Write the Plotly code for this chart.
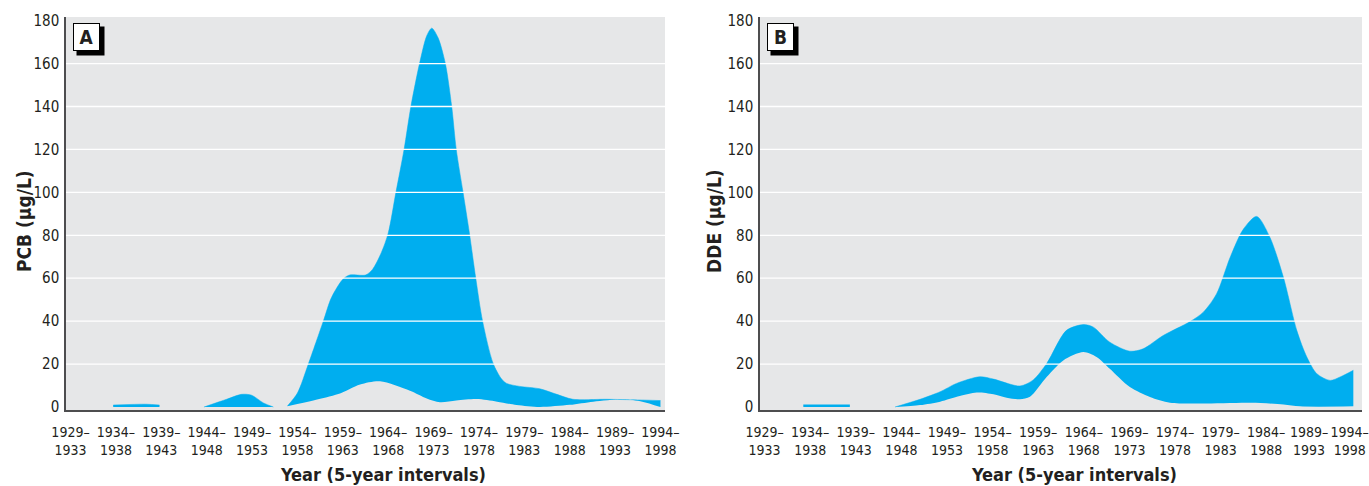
import plotly.graph_objects as go

# ---------------- data ----------------
x_labels = ["1929–<br>1933", "1934–<br>1938", "1939–<br>1943", "1944–<br>1948",
            "1949–<br>1953", "1954–<br>1958", "1959–<br>1963", "1964–<br>1968",
            "1969–<br>1973", "1974–<br>1978", "1979–<br>1983", "1984–<br>1988",
            "1989–<br>1993", "1994–<br>1998"]
x_pos = list(range(len(x_labels)))
y_ticks = [0, 20, 40, 60, 80, 100, 120, 140, 160, 180]

# Panel A: PCB (upper and lower bounds of the band), positions in interval units
pcb_seg1_x = [0.94, 1.66, 1.96]
pcb_seg1_low = [0, 0, 0]
pcb_seg1_high = [0.9, 1.3, 0.9]

pcb_seg2_x = [2.94, 3.44, 3.77, 3.99, 4.25, 4.47]
pcb_seg2_low = [0, 0, 0, 0, 0, 0]
pcb_seg2_high = [0, 3.6, 5.9, 5.5, 1.9, 0]

pcb_high_x = [4.78, 5.0, 5.24, 5.57, 5.75, 6.0, 6.15, 6.5, 6.65, 6.85, 7.0, 7.17,
              7.35, 7.5, 7.69, 7.85, 7.96, 8.1, 8.26, 8.4, 8.5, 8.65, 8.79, 8.93,
              9.08, 9.31, 9.5, 9.61, 9.9, 10.34, 10.7, 11.07, 11.8, 12.5, 13.0]
pcb_high = [0.5, 6.5, 20, 40, 51, 59.5, 61.5, 61.5, 64, 72, 81, 100,
            120, 140, 160, 173, 176.5, 172, 160, 140, 120, 100, 81, 60,
            40, 20.5, 13, 11, 9.6, 8.5, 6, 3.6, 3.6, 3.3, 3]
pcb_low_x = [4.78, 5.35, 5.9, 6.38, 6.82, 7.48, 7.85, 8.14, 8.5, 8.95, 9.4,
             9.83, 10.34, 11.0, 11.52, 12.18, 12.6, 13.0]
pcb_low = [0.3, 3, 6, 10.5, 12, 7.6, 4, 2.2, 3, 3.7, 2.5,
           0.9, 0, 1, 2.5, 3.6, 2.5, 0]

# Panel B: DDE
dde_seg1_x = [0.85, 1.87]
dde_seg1_low = [0, 0]
dde_seg1_high = [1, 1]

dde_high_x = [2.86, 3.41, 3.85, 4.21, 4.72, 5.02, 5.6, 5.89, 6.19, 6.62, 6.99,
              7.21, 7.57, 8.01, 8.3, 8.74, 9.33, 9.62, 9.91, 10.21, 10.5, 10.79,
              11.08, 11.38, 11.67, 11.89, 12.11, 12.4, 12.62, 12.91]
dde_high = [0, 3.6, 7.1, 11, 14.1, 13, 9.8, 12.6, 20.4, 35.7, 38.4,
            37.2, 30.2, 26, 27.1, 33.3, 39.8, 44.2, 52.7, 69.8, 82.9, 88.8,
            79.1, 60.2, 35.7, 23.3, 15.5, 12.4, 14, 17.1]
dde_low_x = [2.86, 3.41, 3.85, 4.28, 4.65, 5.02, 5.31, 5.6, 5.82, 6.19, 6.55,
             6.99, 7.28, 7.57, 8.01, 8.45, 8.89, 9.55, 10.65, 11.38, 11.74, 12.91]
dde_low = [0, 0.9, 2.5, 5.1, 6.7, 5.9, 4.3, 3.6, 4.8, 14.1, 21.7,
           25.6, 23.3, 17.8, 9.3, 4.7, 2, 1.6, 2, 1.2, 0.3, 0.3]

# ---------------- style ----------------
BLUE = "#00AEEF"
BG = "#E6E7E8"
AXIS = "#4D4D4F"
TXT = "#231F20"
FONT = "DejaVu Sans Condensed, Liberation Sans Narrow, Liberation Sans, sans-serif"

# label positions on panel B: the last two are nudged left so they stay on the page
tick_pos_B = x_pos[:-2] + [11.94, 12.83]

fig = go.Figure()


def band(xl, yl, xh, yh, xa, ya):
    fig.add_trace(go.Scatter(x=xl, y=yl, mode="lines",
                             line=dict(width=0, color=BLUE, shape="spline", smoothing=0.8),
                             hoverinfo="skip", showlegend=False, xaxis=xa, yaxis=ya))
    fig.add_trace(go.Scatter(x=xh, y=yh, mode="lines", fill="tonexty", fillcolor=BLUE,
                             line=dict(width=0.5, color=BLUE, shape="spline", smoothing=0.8),
                             showlegend=False, xaxis=xa, yaxis=ya))


band(pcb_seg1_x, pcb_seg1_low, pcb_seg1_x, pcb_seg1_high, "x", "y")
band(pcb_seg2_x, pcb_seg2_low, pcb_seg2_x, pcb_seg2_high, "x", "y")
band(pcb_low_x, pcb_low, pcb_high_x, pcb_high, "x", "y")
band(dde_seg1_x, dde_seg1_low, dde_seg1_x, dde_seg1_high, "x2", "y2")
band(dde_low_x, dde_low, dde_high_x, dde_high, "x2", "y2")

W, H = 1369, 486


def px(x):
    return x / W


def py(y):
    return 1 - y / H


domA = [px(66), px(665)]
domB = [px(760), px(1362)]
ydom = [py(410), py(17)]
xr = [-0.1, 13.1]
yr = [-1.4, 181.7]
TICKFONT = dict(family=FONT, size=14, color=TXT)

xaxis_common = dict(range=xr, tickmode="array",
                    tickangle=0, automargin=False, ticklabelstandoff=8,
                    ticklabeloverflow="allow",
                    showgrid=False, zeroline=False, showline=True, linecolor=AXIS,
                    linewidth=2, ticks="", tickfont=TICKFONT, fixedrange=True)
yaxis_common = dict(range=yr, tickmode="array", tickvals=y_ticks, automargin=False,
                    ticklabelstandoff=2,
                    showgrid=False, zeroline=False, showline=True, linecolor=AXIS,
                    linewidth=1.5, ticks="", tickfont=dict(family=FONT, size=15, color=TXT),
                    fixedrange=True)

fig.update_layout(
    width=W, height=H,
    margin=dict(l=0, r=0, t=0, b=0),
    paper_bgcolor="white",
    plot_bgcolor=BG,
    font=dict(family=FONT, color=TXT),
    xaxis=dict(domain=domA, anchor="y", tickvals=x_pos, ticktext=x_labels, **xaxis_common),
    yaxis=dict(domain=ydom, anchor="x", **yaxis_common),
    xaxis2=dict(domain=domB, anchor="y2", tickvals=tick_pos_B, ticktext=x_labels,
                **xaxis_common),
    yaxis2=dict(domain=ydom, anchor="x2", **yaxis_common),
)

# white gridlines drawn above the bands, one per interior y tick
shapes = []
for xref, yref in (("x domain", "y"), ("x2 domain", "y2")):
    for v in y_ticks[1:-1]:
        shapes.append(dict(type="line", xref=xref, yref=yref, x0=0, x1=1, y0=v, y1=v,
                           line=dict(color="white", width=1.3), layer="above"))
fig.update_layout(shapes=shapes)

annotations = []
for label, dom, ytitle, tx, xt in (("A", domA, "PCB (μg/L)", 24, 383),
                                   ("B", domB, "DDE (μg/L)", 714, 1074)):
    xref = "x domain" if label == "A" else "x2 domain"
    yref = "y domain" if label == "A" else "y2 domain"
    bx = 7 / ((dom[1] - dom[0]) * W)
    by = 1 - 6 / (410 - 17)
    # shadow
    annotations.append(dict(text=" ", xref=xref, yref=yref, x=bx, y=by, xanchor="left",
                            yanchor="top", showarrow=False, width=25, height=26,
                            bgcolor="black", borderpad=1, xshift=3, yshift=-3,
                            font=dict(size=18)))
    annotations.append(dict(text="<b>%s</b>" % label, xref=xref, yref=yref, x=bx, y=by,
                            xanchor="left", yanchor="top", showarrow=False, width=25,
                            height=26, bgcolor="white", bordercolor="black", borderwidth=1,
                            borderpad=0, font=dict(family=FONT, size=19, color=TXT)))
    # y title
    annotations.append(dict(text="<b>%s</b>" % ytitle, xref="paper", yref="paper",
                            x=px(tx), y=py(221), xanchor="center", yanchor="middle",
                            textangle=-90, showarrow=False,
                            font=dict(family=FONT, size=19, color=TXT)))
    # x title
    annotations.append(dict(text="<b>Year (5-year intervals)</b>", xref="paper", yref="paper",
                            x=px(xt), y=0, yshift=-1,
                            xanchor="center", yanchor="bottom", showarrow=False,
                            font=dict(family=FONT, size=18, color=TXT)))
fig.update_layout(annotations=annotations)

# place the figure at the page's top-left corner (no default body margin), no modebar
fig.write_html("out.html",
               config={"displayModeBar": False},
               post_script="document.body.style.margin='0';document.body.style.overflow='hidden';")
